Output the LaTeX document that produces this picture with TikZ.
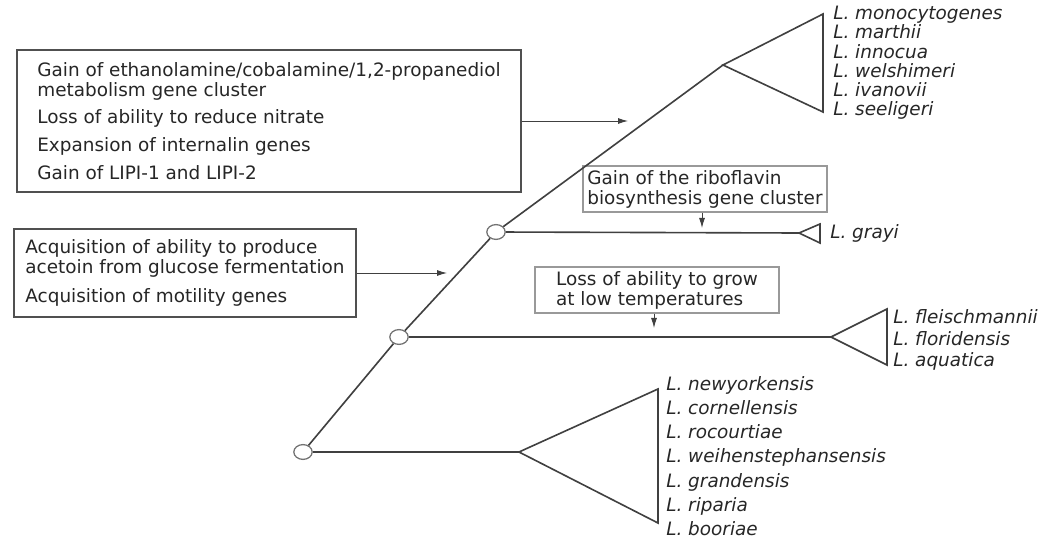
\documentclass[tikz,border=0pt]{standalone}
\usepackage{fontspec}
\setmainfont{DejaVu Sans}
\usepackage{xcolor}
\usetikzlibrary{arrows.meta,positioning,shapes.geometric}
\definecolor{Ink}{HTML}{262626}
\definecolor{Branch}{HTML}{404040}
\definecolor{Frame}{HTML}{505050}
\definecolor{Soft}{HTML}{999999}

\begin{document}
\begin{tikzpicture}[x=0.025cm,y=-0.025cm,
  font=\fontsize{13.1}{14.2}\selectfont,text=Ink,
  traitbox/.style={draw=Frame,line width=0.9pt,align=left,inner sep=0pt},
  notebox/.style={draw=Soft,line width=0.8pt,align=left,inner sep=0pt,minimum width=6.1cm,minimum height=1.15cm},
  junction/.style={ellipse,draw=Frame!80,fill=white,line width=0.9pt,minimum width=0.46cm,minimum height=0.37cm,inner sep=0pt},
  branch/.style={draw=Branch,line width=1.15pt,line join=miter},
  species/.style={align=left,inner sep=0pt,anchor=west,font=\fontsize{13.1}{#1}\selectfont\itshape},
  arr/.style={-{Latex[length=2.5mm,width=1.5mm]},line width=0.65pt,color=Branch}]
  \useasboundingbox (0,0) rectangle (1041,538);
  % trait boxes
  \node[traitbox,minimum width=12.6cm,minimum height=3.55cm] (virubox) at (269,121)
    {Gain of ethanolamine/cobalamine/1,2-propanediol\\metabolism gene cluster\\[5.5pt]Loss of ability to reduce nitrate\\[5.5pt]Expansion of internalin genes\\[5.5pt]Gain of LIPI-1 and LIPI-2};
  \node[traitbox,minimum width=8.55cm,minimum height=2.2cm] (motbox) at (185,273)
    {Acquisition of ability to produce\\acetoin from glucose fermentation\\[6pt]Acquisition of motility genes};
  \node[notebox] (ribobox) at (705,189) {Gain of the riboflavin\\biosynthesis gene cluster};
  \node[notebox] (coldbox) at (657,290) {Loss of ability to grow\\at low temperatures};
  % tree
  \node[junction] (root) at (303,452) {};
  \node[junction] (inner) at (399,337) {};
  \node[junction] (upper) at (496,232) {};
  \coordinate (crown) at (723,65);
  \coordinate (crowntop) at (823,14);
  \coordinate (crownbot) at (823,112);
  \coordinate (grayapex) at (799,233);
  \coordinate (graytop) at (820,224);
  \coordinate (graybot) at (820,243);
  \coordinate (midapex) at (831,337);
  \coordinate (midtop) at (887,309);
  \coordinate (midbot) at (887,365);
  \coordinate (lowapex) at (519,452);
  \coordinate (lowtop) at (658,389);
  \coordinate (lowbot) at (658,523);
  \draw[branch] (root) -- (inner); \draw[branch] (inner) -- (upper); \draw[branch] (upper) -- (crown);
  \draw[branch] (crown) -- (crowntop) -- (crownbot) -- cycle;
  \draw[branch] (upper) -- (grayapex); \draw[branch] (grayapex) -- (graytop) -- (graybot) -- cycle;
  \draw[branch] (inner) -- (midapex); \draw[branch] (midapex) -- (midtop) -- (midbot) -- cycle;
  \draw[branch] (root) -- (lowapex); \draw[branch] (lowapex) -- (lowtop) -- (lowbot) -- cycle;
  % species
  \node[species=13.66pt] (crownnames) at (833,63)
    {L. monocytogenes\\L. marthii\\L. innocua\\L. welshimeri\\L. ivanovii\\L. seeligeri};
  \node[species=14pt] (graynames) at (830,233) {L. grayi};
  \node[species=15.3pt] (midnames) at (893,340) {L. fleischmannii\\L. floridensis\\L. aquatica};
  \node[species=17.2pt] (lownames) at (666,456)
    {L. newyorkensis\\L. cornellensis\\L. rocourtiae\\L. weihenstephansensis\\L. grandensis\\L. riparia\\L. booriae};
  % arrows
  \coordinate (virutip) at (628,121);
  \coordinate (mottip) at (447,273);
  \coordinate (ribotip) at (702,228);
  \coordinate (coldtip) at (654,328);
  \draw[arr] (virubox.east) -- (virutip); \draw[arr] (motbox.east) -- (mottip);
  \draw[arr] (ribobox.south -| ribotip) -- (ribotip); \draw[arr] (coldbox.south -| coldtip) -- (coldtip);
\end{tikzpicture}
\end{document}
